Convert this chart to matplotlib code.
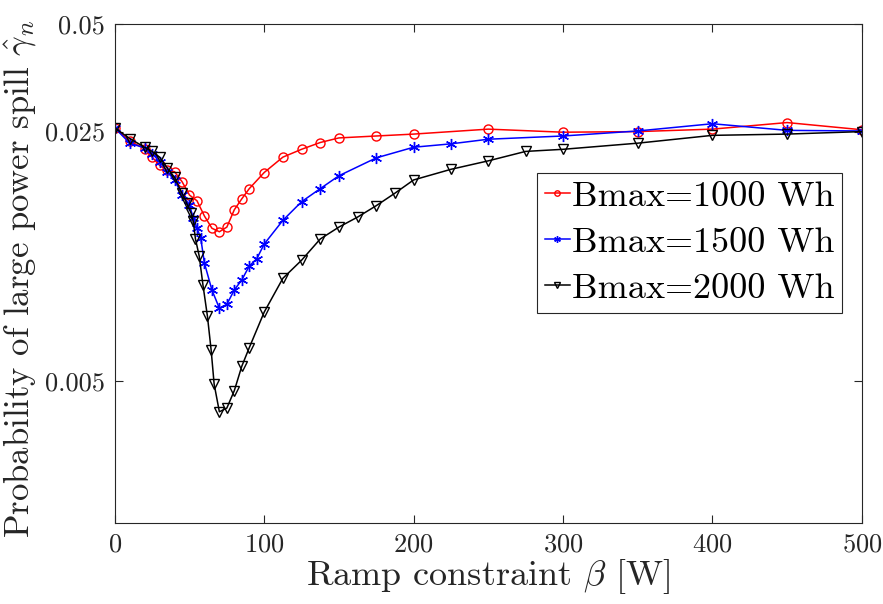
import matplotlib
matplotlib.use("Agg")
import matplotlib.pyplot as plt
from matplotlib.ticker import FixedLocator, NullLocator, FixedFormatter

plt.rcParams["font.family"] = ["cmr10", "DejaVu Serif"]
plt.rcParams["mathtext.fontset"] = "cm"
plt.rcParams["axes.formatter.use_mathtext"] = True

# Bmax = 1000 Wh
x_1000 = [0, 10, 20, 25, 30, 35, 40, 45, 50, 55, 60, 65, 70, 75, 80, 85, 90,
          100, 112.5, 125, 137.5, 150, 175, 200, 250, 300, 350, 400, 450, 500]
y_1000 = [0.0256, 0.0235, 0.0224, 0.0212, 0.0201, 0.0195, 0.0193, 0.0181,
          0.0166, 0.0160, 0.0145, 0.0134, 0.0131, 0.0135, 0.0151, 0.0162,
          0.0173, 0.0192, 0.0212, 0.0223, 0.0233, 0.0240, 0.0243, 0.0246,
          0.0254, 0.0249, 0.0250, 0.0254, 0.0265, 0.0253]

# Bmax = 1500 Wh
x_1500 = [0, 10, 20, 25, 30, 35, 40, 45, 50, 52.5, 55, 57.5, 60, 65, 70, 75,
          80, 85, 90, 95, 100, 112.5, 125, 137.5, 150, 175, 200, 225, 250,
          300, 350, 400, 450, 500]
y_1500 = [0.0256, 0.0232, 0.0225, 0.0217, 0.0206, 0.0193, 0.0183, 0.0166,
          0.0156, 0.0143, 0.0134, 0.0126, 0.0107, 0.0090, 0.0080, 0.0082,
          0.0090, 0.0096, 0.0105, 0.0110, 0.0121, 0.0141, 0.0159, 0.0173,
          0.0188, 0.0211, 0.0226, 0.0231, 0.0238, 0.0243, 0.0251, 0.0263,
          0.0252, 0.0251]

# Bmax = 2000 Wh
x_2000 = [0, 10, 20, 25, 30, 35, 40, 45, 48, 51, 52.5, 54, 56.5, 59, 62,
          64.5, 66.5, 70, 75, 80, 85, 90, 100, 112.5, 125, 137.5, 150, 162.5,
          175, 187.5, 200, 225, 250, 275, 300, 350, 400, 450, 500]
y_2000 = [0.0256, 0.0239, 0.0226, 0.0220, 0.0212, 0.0198, 0.0186, 0.0168,
          0.0158, 0.0148, 0.0140, 0.0125, 0.0112, 0.0093, 0.0076, 0.0061,
          0.0049, 0.0041, 0.0042, 0.0047, 0.0055, 0.0062, 0.0078, 0.0097,
          0.0109, 0.0125, 0.0135, 0.0144, 0.0155, 0.0168, 0.0183, 0.0196,
          0.0207, 0.0220, 0.0223, 0.0232, 0.0244, 0.0246, 0.0250]

labels = ["Bmax=1000 Wh", "Bmax=1500 Wh", "Bmax=2000 Wh"]

fig = plt.figure(figsize=(8.83, 6.04), dpi=100)
ax = fig.add_axes([0.130, 0.134, 0.846, 0.826])

ax.plot(x_1000, y_1000, color="red", marker="o", markersize=6.5,
        markerfacecolor="none", markeredgewidth=1.0, linewidth=1.1, label=labels[0])
ax.plot(x_1500, y_1500, color="blue", marker=(6, 2, 0), markersize=8,
        markeredgewidth=1.0, linewidth=1.1, label=labels[1])
ax.plot(x_2000, y_2000, color="black", marker="v", markersize=6.5,
        markerfacecolor="none", markeredgewidth=1.0, linewidth=1.1, label=labels[2])

ax.set_yscale("log")
ax.set_xlim(0, 500)
ax.set_ylim(0.002, 0.05)
ax.set_xticks([0, 100, 200, 300, 400, 500])
ax.yaxis.set_major_locator(FixedLocator([0.005, 0.025, 0.05]))
ax.yaxis.set_major_formatter(FixedFormatter(["0.005", "0.025", "0.05"]))
ax.yaxis.set_minor_locator(NullLocator())

gray = "#262626"
for s in ax.spines.values():
    s.set_color(gray)
    s.set_linewidth(0.8)
ax.tick_params(which="both", direction="in", top=True, right=True,
               length=5.5, width=0.8, color=gray, labelcolor=gray,
               labelsize=19, pad=7)

ax.set_xlabel(r"Ramp constraint $\beta$ [W]", fontsize=26, color=gray, labelpad=0)
ax.set_ylabel(r"Probability of large power spill $\hat{\gamma}_n$", fontsize=25,
              color=gray)
ax.yaxis.set_label_coords(-0.103, 0.49)

leg = ax.legend(loc="upper right", bbox_to_anchor=(0.974, 0.702), fontsize=26,
                handlelength=0.7, handletextpad=0.05, borderpad=0.22,
                labelspacing=0.38, fancybox=False, framealpha=1,
                edgecolor=gray, borderaxespad=0, markerscale=0.6)
leg.get_frame().set_linewidth(0.8)

fig.savefig("out.png", dpi=100)
